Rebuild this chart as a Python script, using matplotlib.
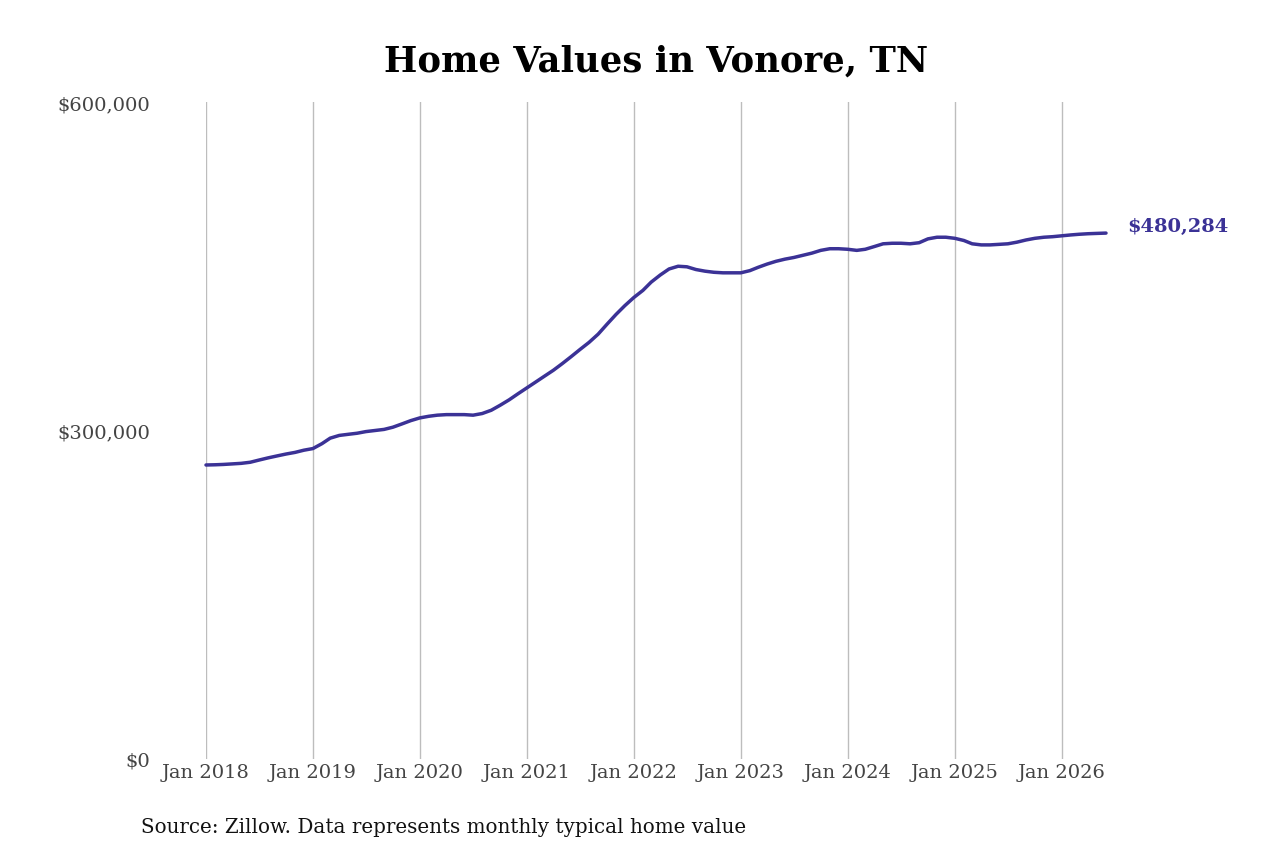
import matplotlib
matplotlib.use("Agg")
import matplotlib.pyplot as plt
import matplotlib.dates as mdates
import matplotlib.ticker as mticker
import pandas as pd

# monthly typical home value, thousands of dollars, Jan 2018 - Jun 2026
values_k = [
    268.5, 268.7, 269.0, 269.5, 270.0, 271.0, 273.0, 275.0, 276.8, 278.5, 280.0, 282.0,  # 2018
    283.5, 288.0, 293.0, 295.5, 296.5, 297.5, 299.0, 300.0, 301.0, 303.0, 306.0, 309.0,  # 2019
    311.5, 313.0, 314.0, 314.5, 314.5, 314.5, 314.0, 315.5, 318.5, 323.0, 328.0, 333.5,  # 2020
    339.0, 344.5, 349.5, 355.0, 361.0, 367.5, 374.0, 380.5, 388.0, 397.0, 406.0, 414.0,  # 2021
    421.5, 428.0, 435.5, 442.0, 447.5, 450.0, 449.5, 447.0, 445.5, 444.5, 444.0, 444.0,  # 2022
    444.0, 446.0, 449.0, 452.0, 454.5, 456.5, 458.0, 460.0, 462.0, 464.5, 466.0, 466.0,  # 2023
    465.5, 464.5, 465.5, 468.0, 470.5, 471.0, 471.0, 470.5, 471.5, 475.0, 476.5, 476.5,  # 2024
    475.5, 473.5, 470.5, 469.5, 469.5, 470.0, 470.5, 472.0, 474.0, 475.5, 476.5, 477.0,  # 2025
    477.8, 478.6, 479.2, 479.7, 480.0, 480.284,  # 2026
]
dates = pd.date_range("2018-01-01", periods=len(values_k), freq="MS")
values = [v * 1000 for v in values_k]

year_ticks = pd.date_range("2018-01-01", "2026-01-01", freq="YS")
y_ticks = [0, 300000, 600000]
end_label = "$480,284"

line_color = "#3b3296"
serif = "DejaVu Serif"

fig = plt.figure(figsize=(12.8, 8.53), dpi=100)
ax = fig.add_axes([206 / 1280, 93 / 853, 900 / 1280, 657 / 853])

ax.plot(dates, values, color=line_color, linewidth=2.5, clip_on=False,
        solid_capstyle="round", zorder=3)

ax.set_xlim(dates[0], dates[-1])
ax.set_ylim(0, 600000)

ax.set_xticks(year_ticks)
ax.xaxis.set_major_formatter(mdates.DateFormatter("Jan %Y"))
ax.set_yticks(y_ticks)
ax.yaxis.set_major_formatter(mticker.FuncFormatter(lambda v, p: f"${v:,.0f}"))

ax.grid(axis="x", color="#bdbdbd", linewidth=1)
ax.grid(axis="y", visible=False)
for s in ax.spines.values():
    s.set_visible(False)
ax.tick_params(axis="both", length=0, labelcolor="#444444", labelsize=14)
ax.tick_params(axis="x", pad=3)
ax.tick_params(axis="y", pad=40)
for lab in ax.get_xticklabels() + ax.get_yticklabels():
    lab.set_fontfamily(serif)

ax.annotate(end_label, xy=(dates[-1], values[-1]), xytext=(15, 5),
            textcoords="offset points", ha="left", va="center",
            fontsize=14, fontweight="bold", color=line_color, family=serif)

fig.text(656 / 1280, 1 - 62 / 853, "Home Values in Vonore, TN", ha="center",
         va="center", fontsize=25.5, fontweight="bold", family=serif, color="black")
fig.text(141 / 1280, 1 - 828 / 853,
         "Source: Zillow. Data represents monthly typical home value",
         ha="left", va="center", fontsize=14.3, family=serif, color="#111111")

fig.savefig("out.png", dpi=100)
